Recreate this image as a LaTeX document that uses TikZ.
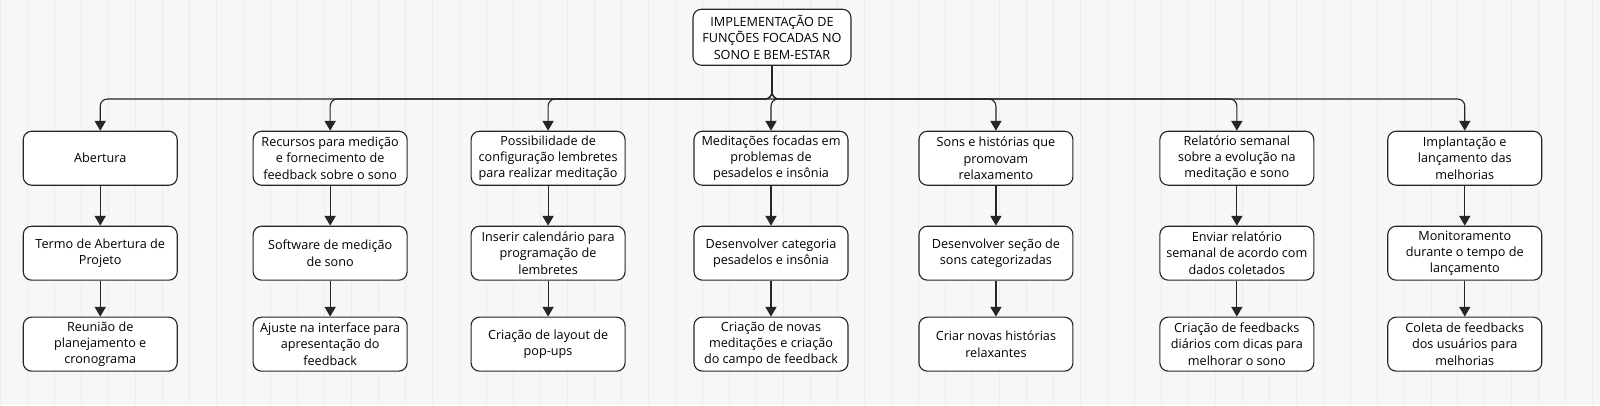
\documentclass[tikz,border=0pt]{standalone}
\usepackage{fontspec}
\setmainfont{Open Sans}
\usetikzlibrary{positioning,arrows.meta}
\tikzset{
    box/.style={draw=black!85, thick, rounded corners=6pt, fill=white, minimum width=3.85cm, minimum height=1.35cm, align=center, font=\fontsize{9}{11.5}\selectfont, inner sep=1pt},
    link/.style={draw=black!85, thick, -{Triangle[width=8pt,length=7pt]}}
}
\begin{document}
\begin{tikzpicture}[x=0.025cm, y=-0.025cm]
    \fill[white!97!black] (0,0) rectangle (1600,405);
    \draw[black!7] (0,0) grid[step=27] (1600,405);
    \useasboundingbox (0,0) rectangle (1600,405);
    \node[box, minimum width=3.95cm, minimum height=1.4cm] (root) at (772,37) {IMPLEMENTAÇÃO DE\\FUNÇÕES FOCADAS NO\\SONO E BEM-ESTAR};
    % columns
    \foreach \n/\x/\a/\b/\c in {
        1/100/{Abertura}/{Termo de Abertura de\\Projeto}/{Reunião de\\planejamento e\\cronograma},
        2/330/{Recursos para medição\\e fornecimento de\\feedback sobre o sono}/{Software de medição\\de sono}/{Ajuste na interface para\\apresentação do\\feedback},
        3/548/{Possibilidade de\\configuração lembretes\\para realizar meditação}/{Inserir calendário para\\programação de\\lembretes}/{Criação de layout de\\pop-ups},
        4/771/{Meditações focadas em\\problemas de\\pesadelos e insônia}/{Desenvolver categoria\\pesadelos e insônia}/{Criação de novas\\meditações e criação\\do campo de feedback},
        5/996/{Sons e histórias que\\promovam\\relaxamento}/{Desenvolver seção de\\sons categorizadas}/{Criar novas histórias\\relaxantes},
        6/1237/{Relatório semanal\\sobre a evolução na\\meditação e sono}/{Enviar relatório\\semanal de acordo com\\dados coletados}/{Criação de feedbacks\\diários com dicas para\\melhorar o sono},
        7/1465/{Implantação e\\lançamento das\\melhorias}/{Monitoramento\\durante o tempo de\\lançamento}/{Coleta de feedbacks\\dos usuários para\\melhorias}} {
        \node[box] (a\n) at (\x,158) {\a};
        \node[box] (b\n) at (\x,253) {\b};
        \node[box] (c\n) at (\x,344) {\c};
        \draw[link, rounded corners=5pt] (root.south) |- ([yshift=-0.02cm]a\n.north |- 0,98) -- (a\n.north);
        \draw[link] (a\n) -- (b\n);
        \draw[link] (b\n) -- (c\n);
    }
\end{tikzpicture}
\end{document}
